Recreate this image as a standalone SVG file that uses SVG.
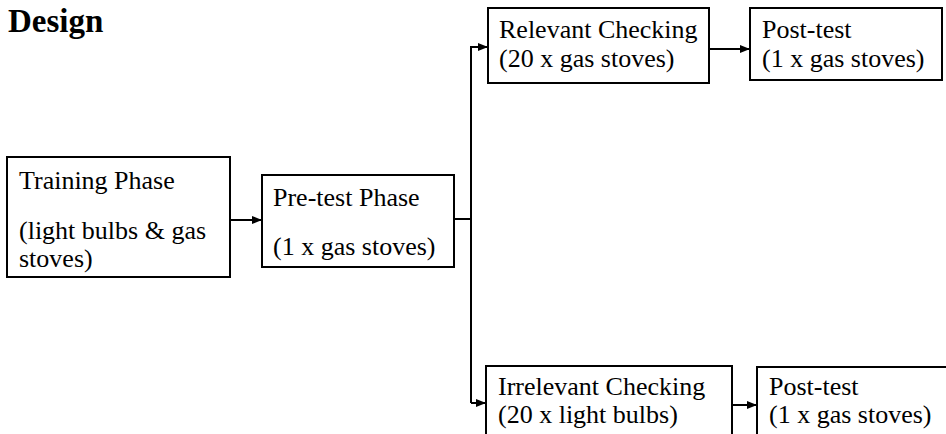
<svg xmlns="http://www.w3.org/2000/svg" width="946" height="434" viewBox="0 0 946 434">
<style>
.box{fill:#fff;stroke:#000;stroke-width:2}
.t{font-family:"Liberation Serif","Times New Roman",serif;font-size:26px;fill:#000}
.ln{fill:none;stroke:#000;stroke-width:2}
</style>
<defs>
<marker id="ah" markerWidth="10" markerHeight="8" refX="10" refY="4" orient="auto" markerUnits="userSpaceOnUse">
<path d="M0,0 L10,4 L0,8 Z" fill="#000"/>
</marker>
</defs>
<rect width="946" height="434" fill="#fff"/>
<text x="8" y="32" font-family="Liberation Serif,serif" font-weight="bold" font-size="33">Design</text>
<g id="training">
<rect class="box" x="7" y="157" width="223" height="120"/>
<text class="t" x="19" y="189">Training Phase</text>
<text class="t" x="19" y="239">(light bulbs &amp; gas</text>
<text class="t" x="19" y="267">stoves)</text>
</g>
<g id="pretest">
<rect class="box" x="262" y="175" width="192" height="92"/>
<text class="t" x="273" y="206">Pre-test Phase</text>
<text class="t" x="273" y="255">(1 x gas stoves)</text>
</g>
<g id="relevant">
<rect class="box" x="488" y="8" width="221" height="75"/>
<text class="t" x="499" y="38">Relevant Checking</text>
<text class="t" x="499" y="67">(20 x gas stoves)</text>
</g>
<g id="posttest1">
<rect class="box" x="750" y="8" width="192" height="72"/>
<text class="t" x="762" y="38">Post-test</text>
<text class="t" x="762" y="67">(1 x gas stoves)</text>
</g>
<g id="irrelevant">
<rect class="box" x="486" y="366" width="246" height="80"/>
<text class="t" x="498" y="395">Irrelevant Checking</text>
<text class="t" x="498" y="423">(20 x light bulbs)</text>
</g>
<g id="posttest2">
<rect class="box" x="757" y="367" width="200" height="80"/>
<text class="t" x="769" y="395">Post-test</text>
<text class="t" x="769" y="423">(1 x gas stoves)</text>
</g>
<g id="connectors">
<path class="ln" d="M230,220 L262,220" marker-end="url(#ah)"/>
<path class="ln" d="M454,219 L471,219"/>
<path class="ln" d="M471,403 L471,47 L488,47" marker-end="url(#ah)"/>
<path class="ln" d="M471,403 L486,403" marker-end="url(#ah)"/>
<path class="ln" d="M709,49 L750,49" marker-end="url(#ah)"/>
<path class="ln" d="M732,405 L757,405" marker-end="url(#ah)"/>
</g>
</svg>
